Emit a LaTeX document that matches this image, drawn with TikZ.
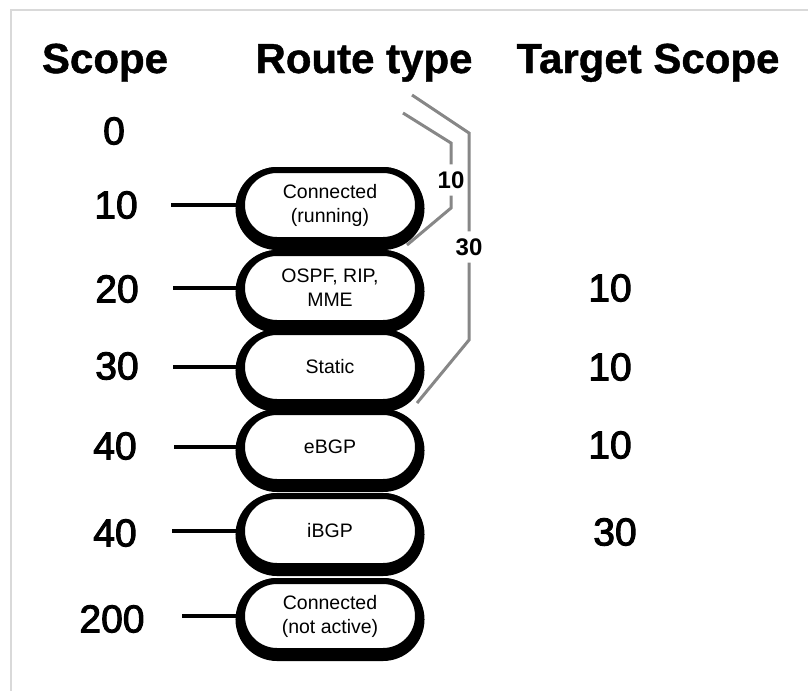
\documentclass[tikz,border=0pt]{standalone}
\usepackage{fontspec}
\setmainfont{Liberation Sans}
\usetikzlibrary{shapes.misc}
\begin{document}
\begin{tikzpicture}[x=1pt,y=-1pt,
  hdr/.style={font=\fontsize{42}{48}\selectfont\bfseries\addfontfeature{FakeBold=1}, inner sep=0pt, anchor=base},
  num/.style={font=\fontsize{39}{44}\selectfont\addfontfeature{FakeBold=2.5}, inner sep=0pt},
  rbox/.style={rounded rectangle, draw, line width=6pt, fill=white,
    minimum width=176pt, minimum height=70pt, inner sep=0pt, align=center,
    font=\fontsize{19.5}{24}\selectfont,
    preaction={draw=black, line width=13pt, transform canvas={yshift=-3.5pt}}},
  link/.style={line width=4pt},
  gline/.style={draw=black!47, line width=3pt},
  glab/.style={font=\fontsize{24}{28}\selectfont\bfseries, inner sep=7pt}]
\useasboundingbox (0,0) rectangle (808,691);
\fill[white] (0,0) rectangle (808,691);
\draw[black!15, line width=1.5pt] (808,10) -- (11,10) -- (11,691);

% headers
\node[hdr] (h1) at (105,73) {Scope};
\node[hdr] (h2) at (364,73) {Route type};
\node[hdr] (h3) at (648,73) {Target Scope};

% scope numbers
\node[num] (s0) at (114,131) {0};
\node[num] (s1) at (116,205) {10};
\node[num] (s2) at (117,289) {20};
\node[num] (s3) at (117,366) {30};
\node[num] (s4) at (115,446) {40};
\node[num] (s5) at (115,533) {40};
\node[num] (s6) at (112,619) {200};

% route type boxes
\node[rbox] (b6) at (330,616) {Connected\\(not active)};
\node[rbox] (b5) at (330,531) {iBGP};
\node[rbox] (b4) at (330,447) {eBGP};
\node[rbox] (b3) at (330,367) {Static};
\node[rbox] (b2) at (330,288) {OSPF, RIP,\\MME};
\node[rbox] (b1) at (330,205) {Connected\\(running)};

% connectors
\coordinate (l1) at (171,205);
\coordinate (l2) at (173,288);
\coordinate (l3) at (173,367);
\coordinate (l4) at (174,447);
\coordinate (l5) at (172,531);
\coordinate (l6) at (182,616);
\draw[link] (l1) -- (b1.west);
\draw[link] (l2) -- (b2.west);
\draw[link] (l3) -- (b3.west);
\draw[link] (l4) -- (b4.west);
\draw[link] (l5) -- (b5.west);
\draw[link] (l6) -- (b6.west);

% target scope
\node[num] (t2) at (610,288) {10};
\node[num] (t3) at (610,367) {10};
\node[num] (t4) at (610,445) {10};
\node[num] (t5) at (615,532) {30};

% gray brackets
\node[glab] (g10) at (451,180) {10};
\node[glab] (g30) at (469,247) {30};
\coordinate (a1) at (403,113);
\coordinate (a2) at (451,143);
\coordinate (a3) at (451,208);
\coordinate (a4) at (407,245);
\coordinate (c1) at (412,95);
\coordinate (c2) at (469,133);
\coordinate (c3) at (469,340);
\coordinate (c4) at (417,403);
\draw[gline] (a1) -- (a2) -- (g10.north);
\draw[gline] (g10.south) -- (a3) -- (a4);
\draw[gline] (c1) -- (c2) -- (g30.north);
\draw[gline] (g30.south) -- (c3) -- (c4);
\end{tikzpicture}
\end{document}
